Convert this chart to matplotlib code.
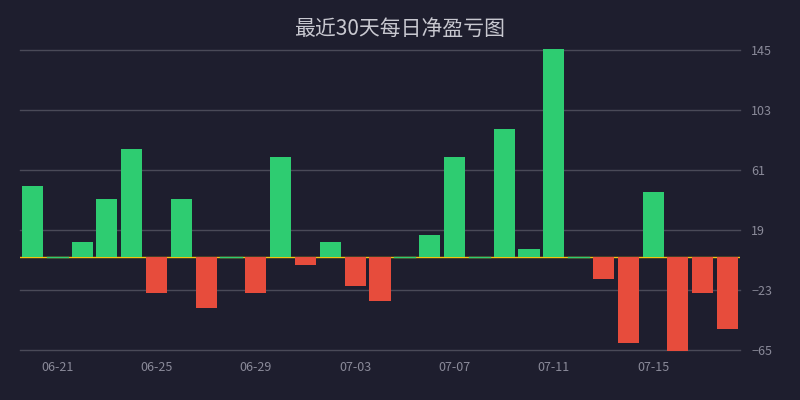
import matplotlib
matplotlib.use('Agg')
import matplotlib.pyplot as plt
import numpy as np

plt.rcParams['font.family'] = ['Noto Sans CJK SC', 'DejaVu Sans']

# daily net P&L, 06-20 .. 07-18
dates = ['06-20', '06-21', '06-22', '06-23', '06-24', '06-25', '06-26', '06-27',
         '06-28', '06-29', '06-30', '07-01', '07-02', '07-03', '07-04', '07-05',
         '07-06', '07-07', '07-08', '07-09', '07-10', '07-11', '07-12', '07-13',
         '07-14', '07-15', '07-16', '07-17', '07-18']
pnl = [50, 0, 10.5, 40.5, 75.5, -25, 40.5, -35.5, 0, -25, 70, -5.5, 10.5, -20,
       -30.5, 0, 15.5, 70, 0, 90, 5.5, 145.5, 0, -15, -60, 45.5, -65.5, -25, -50]
ytick_vals = [-65, -23, 19, 61, 103, 145]

bg = '#1e1e2e'
green = '#2ecc71'
red = '#e74c3c'

fig = plt.figure(figsize=(8, 4), dpi=100, facecolor=bg)
ax = fig.add_axes([0.025, 0.125, 0.9, 0.75])
ax.set_facecolor(bg)

x = np.arange(len(dates))
colors = [green if v >= 0 else red for v in pnl]
ax.axhline(0, color='#f1c40f', lw=1, zorder=1)
bars = ax.bar(x, pnl, width=0.85, color=colors, zorder=3)
for b in bars:
    b.set_clip_on(False)
# zero days shown as thin green line
for i, v in enumerate(pnl):
    if v == 0:
        ax.plot([i - 0.425, i + 0.425], [0, 0], color=green, lw=1, zorder=3)

ax.set_xlim(-0.5, len(dates) - 0.5)
ax.set_ylim(-65, 145)
ax.set_yticks(ytick_vals)
ax.yaxis.tick_right()
for v in ytick_vals:
    ax.axhline(v, color='#4a4a58', lw=1, zorder=0, clip_on=False)
ax.set_xticks(x[1::4])
ax.set_xticklabels([dates[i] for i in x[1::4]])
ax.tick_params(axis='both', length=0, colors='#8a8a99', labelsize=9)
ax.tick_params(axis='y', pad=8)
ax.tick_params(axis='x', pad=8)
for s in ax.spines.values():
    s.set_visible(False)

fig.text(0.5, 0.928, '最近30天每日净盈亏图', ha='center', va='center',
         color='#c8c8d0', fontsize=15)

plt.savefig('out.png', dpi=100, facecolor=bg)
